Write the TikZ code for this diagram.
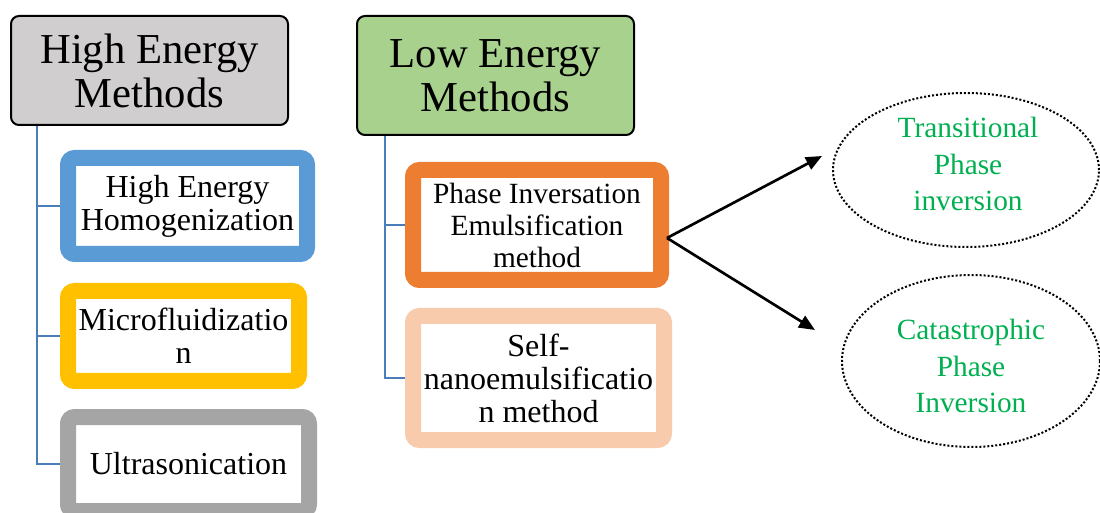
\documentclass[tikz,border=0pt]{standalone}
\usepackage{fontspec}
\setmainfont{Liberation Serif}
\usetikzlibrary{shapes.geometric,arrows.meta,backgrounds}
\definecolor{cblue}{HTML}{5B9BD5}
\definecolor{cyellow}{HTML}{FFC000}
\definecolor{cgray}{HTML}{A5A5A5}
\definecolor{corange}{HTML}{ED7D31}
\definecolor{cpeach}{HTML}{F8CBAD}
\definecolor{hgray}{HTML}{D0CECE}
\definecolor{hgreen}{HTML}{A9D18E}
\definecolor{tline}{HTML}{4A7EBB}
\definecolor{tgreen}{HTML}{00B050}
\tikzset{
  header/.style={draw=black, line width=1.5pt, rounded corners=6pt, inner sep=0pt, align=center,
    font=\fontsize{32pt}{33pt}\selectfont},
  item/.style={draw=#1, fill=white, line width=12pt, rounded corners=5pt, inner sep=0pt, align=center,
    font=\fontsize{24pt}{24.7pt}\selectfont},
  oval/.style={ellipse, draw=black, line width=1.5pt, dash pattern=on 1.5pt off 1.5pt, inner sep=0pt},
  ovaltext/.style={align=center, text=tgreen, inner sep=0pt, font=\fontsize{22pt}{27.5pt}\selectfont},
  tree/.style={draw=tline, line width=1.5pt},
  arr/.style={draw=black, line width=2pt, -{Triangle[length=12pt,width=10pt]}}
}
\begin{document}
\begin{tikzpicture}[x=0.75pt,y=-0.75pt]
\useasboundingbox (0,0) rectangle (1100,513);
% headers
\node[header, fill=hgray, minimum width=277*0.75pt, minimum height=109*0.75pt] (hem) at (149.5,70.5) {High Energy\\Methods};
\node[header, fill=hgreen, minimum width=277*0.75pt, minimum height=119*0.75pt] (lem) at (495.5,75.5) {Low Energy\\Methods};
% items
\node[item=cblue, minimum width=239*0.75pt, minimum height=96*0.75pt] (heh) at (187.5,206) {High Energy\\Homogenization};
\node[item=cyellow, minimum width=231*0.75pt, minimum height=90*0.75pt] (mic) at (183.5,336) {Microfluidizatio\\n};
\node[item=cgray, minimum width=241*0.75pt, minimum height=94*0.75pt] (ult) at (188.5,464) {Ultrasonication};
\node[item=corange, minimum width=248*0.75pt, minimum height=110*0.75pt, font=\fontsize{22pt}{24pt}\selectfont] (pie) at (537,225) {Phase Inversation\\Emulsification\\method};
\node[item=cpeach, minimum width=251*0.75pt, minimum height=124*0.75pt] (sne) at (538.5,378) {Self-\\nanoemulsificatio\\n method};
% ellipses
\node[oval, minimum width=266*0.75pt, minimum height=154*0.75pt] (tpi) at (966,170) {};
\node[ovaltext] (tpit) at (968,164) {Transitional\\Phase\\inversion};
\node[oval, minimum width=258*0.75pt, minimum height=172*0.75pt] (cpi) at (971,361) {};
\node[ovaltext] (cpit) at (971,366) {Catastrophic\\Phase\\Inversion};
% tree lines
\begin{pgfonlayer}{background}
\coordinate (t1) at ([shift={(27,0)}]hem.south west);
\coordinate (t2) at ([shift={(29,0)}]lem.south west);
\draw[tree] (t1) |- (heh.west);
\draw[tree] (t1) |- (mic.west);
\draw[tree] (t1) |- (ult.west);
\draw[tree] (t2) |- (pie.west);
\draw[tree] (t2) |- (sne.west);
\end{pgfonlayer}
% arrows
\coordinate (s) at ([shift={(-2,13)}]pie.east);
\coordinate (e1) at ([shift={(-10,-14)}]tpi.west);
\coordinate (e2) at ([shift={(-26,-31)}]cpi.west);
\draw[arr] (s) -- (e1);
\draw[arr] (s) -- (e2);
\end{tikzpicture}
\end{document}
